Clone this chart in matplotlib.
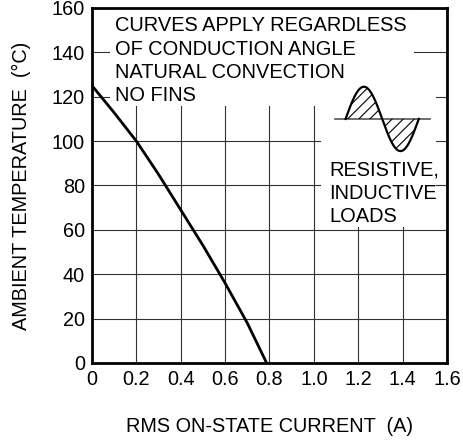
import matplotlib
matplotlib.use('Agg')
import matplotlib.pyplot as plt
import matplotlib.patches as patches
import numpy as np

plt.rcParams['font.family'] = ['Liberation Sans', 'DejaVu Sans']
plt.rcParams['hatch.linewidth'] = 0.8

# derating curve
current = [0.0, 0.1, 0.2, 0.3, 0.4, 0.5, 0.6, 0.7, 0.787]
temp = [125, 112.8, 100, 85, 69, 53, 36, 18, 0]

xticks = [0, 0.2, 0.4, 0.6, 0.8, 1.0, 1.2, 1.4, 1.6]
xticklabels = ['0', '0.2', '0.4', '0.6', '0.8', '1.0', '1.2', '1.4', '1.6']
yticks = [0, 20, 40, 60, 80, 100, 120, 140, 160]

note_lines = ['CURVES APPLY REGARDLESS', 'OF CONDUCTION ANGLE',
              'NATURAL CONVECTION', 'NO FINS']
load_lines = ['RESISTIVE,', 'INDUCTIVE', 'LOADS']

fig = plt.figure(figsize=(4.63, 4.41), dpi=100)
ax = fig.add_axes([0.1987, 0.1769, 0.7667, 0.805])
ax.set_xlim(0, 1.6)
ax.set_ylim(0, 160)
ax.set_xticks(xticks)
ax.set_xticklabels(xticklabels)
ax.set_yticks(yticks)
ax.tick_params(length=0, labelsize=14.3, pad=5)
ax.set_axisbelow(True)
ax.grid(True, color='#333333', lw=0.8)
for s in ax.spines.values():
    s.set_linewidth(2.0)

# white boxes behind the notes hide the grid
ax.add_patch(patches.Rectangle((0.083, 116), 1.367, 44, facecolor='white',
                               edgecolor='none', zorder=1))
ax.add_patch(patches.Rectangle((1.034, 61.5), 0.518, 67, facecolor='white',
                               edgecolor='none', zorder=1))

ax.plot(current, temp, color='black', lw=2.0, zorder=4)

for i, t in enumerate(note_lines):
    ax.text(0.105, 149.5 - 10.5 * i, t, fontsize=14.4, va='baseline', zorder=3)
for i, t in enumerate(load_lines):
    ax.text(1.071, 84.6 - 10.6 * i, t, fontsize=14.4, va='baseline', zorder=3)

# sine wave icon
xs = np.linspace(1.143, 1.473, 200)
ys = 110 + 14.5 * np.sin(2 * np.pi * (xs - 1.143) / 0.33)
ax.plot([1.097, 1.525], [110, 110], color='#555555', lw=1.2, zorder=3)
ax.fill_between(xs, 110, ys, facecolor='none', edgecolor='black', hatch='///',
                lw=0, zorder=3)
ax.plot(xs, ys, color='black', lw=1.6, zorder=4)

ax.set_xlabel('RMS ON-STATE CURRENT  (A)', fontsize=14.3, labelpad=20)
ax.set_ylabel('AMBIENT TEMPERATURE  (°C)', fontsize=14.3, labelpad=15)

fig.savefig('out.png', dpi=100)
